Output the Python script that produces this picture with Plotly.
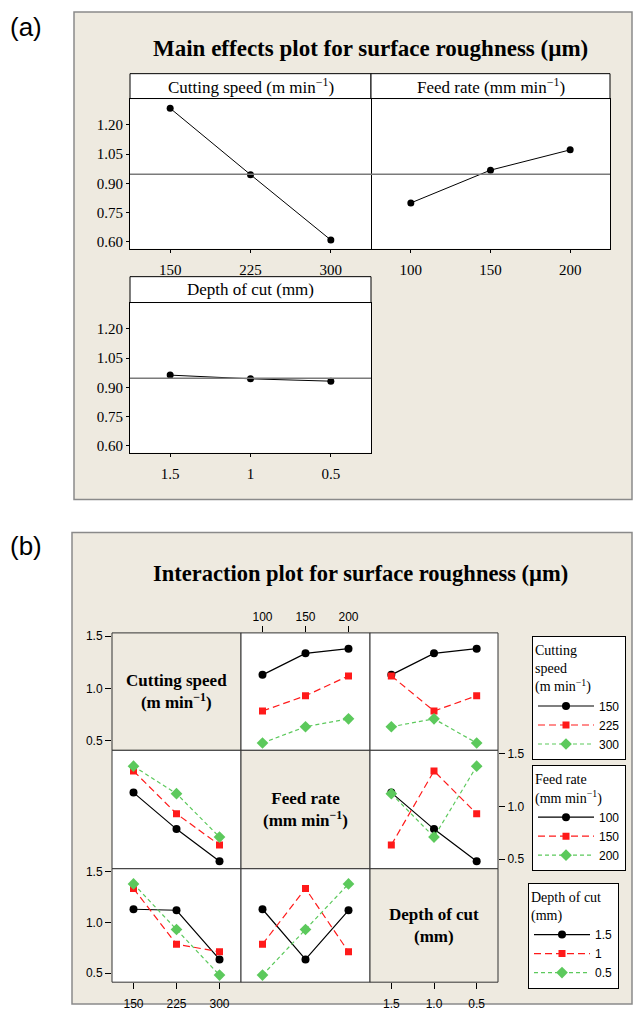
import plotly.graph_objects as go

W, H = 634, 1021

# ---------------- data ----------------
cs_labels = ["150", "225", "300"]
fr_labels = ["100", "150", "200"]
doc_labels = ["1.5", "1", "0.5"]
doc_tick_labels = ["1.5", "1.0", "0.5"]

# main effects (means of surface roughness)
cs_means = [1.285, 0.945, 0.610]
fr_means = [0.800, 0.968, 1.072]
doc_means = [0.963, 0.944, 0.932]
grand_mean = 0.947

main_yticks = [0.60, 0.75, 0.90, 1.05, 1.20]
inter_yticks = [0.5, 1.0, 1.5]
inter_yticklabels = ["0.5", "1.0", "1.5"]

# L9 experimental runs
run_cs = ["150", "150", "150", "225", "225", "225", "300", "300", "300"]
run_fr = ["100", "150", "200", "100", "150", "200", "100", "150", "200"]
run_doc = ["1.5", "1", "0.5", "1", "0.5", "1.5", "0.5", "1.5", "1"]
run_ra = [1.13, 1.335, 1.38, 0.785, 0.93, 1.12, 0.48, 0.635, 0.71]

# ---------------- helpers ----------------
SERIF = "Liberation Serif, Times New Roman, serif"
SANS = "Liberation Sans, Arial, sans-serif"
BEIGE = "#EEEAE0"


def px(x):
    return x / W


def py(y):
    return 1 - y / H


fig = go.Figure()
shapes = []
annotations = []
layout = {}

# ================= Panel (a) =================
shapes.append(dict(type="rect", xref="paper", yref="paper", x0=px(74), x1=px(632),
                   y0=py(498), y1=py(8), fillcolor=BEIGE,
                   line=dict(color="#8a8a8a", width=1.5), layer="below"))
annotations.append(dict(text="(a)", x=px(8), y=py(23), xref="paper", yref="paper",
                        xanchor="left", yanchor="middle", showarrow=False,
                        font=dict(family=SANS, size=26, color="black")))
annotations.append(dict(text="<b>Main effects plot for surface roughness (µm)</b>",
                        x=px(370), y=py(45), xref="paper", yref="paper",
                        xanchor="center", yanchor="middle", showarrow=False,
                        font=dict(family=SERIF, size=23, color="black")))

main_panels = [
    # (axis number, x0, x1, header_top, plot_top, plot_bottom, labels, means, title, show y labels)
    (1, 130, 371, 70, 95, 246, cs_labels, cs_means, "Cutting speed (m min<sup>−1</sup>)", True),
    (2, 371, 610, 70, 95, 246, fr_labels, fr_means, "Feed rate (mm min<sup>−1</sup>)", False),
    (3, 130, 371, 274, 300, 451, doc_labels, doc_means, "Depth of cut (mm)", True),
]

for n, x0, x1, ht, pt, pb, labels, means, title, showy in main_panels:
    xs = "" if n == 1 else str(n)
    # white plot area + header
    shapes.append(dict(type="rect", xref="paper", yref="paper", x0=px(x0), x1=px(x1),
                       y0=py(pb), y1=py(pt), fillcolor="white",
                       line=dict(width=0), layer="below"))
    shapes.append(dict(type="rect", xref="paper", yref="paper", x0=px(x0), x1=px(x1),
                       y0=py(pt), y1=py(ht), fillcolor="white",
                       line=dict(color="black", width=1), layer="below"))
    annotations.append(dict(text=title, x=(px(x0) + px(x1)) / 2, y=(py(ht) + py(pt)) / 2,
                            xref="paper", yref="paper", xanchor="center", yanchor="middle",
                            showarrow=False, font=dict(family=SERIF, size=17, color="black")))
    # reference (grand mean) line
    shapes.append(dict(type="line", xref=f"x{xs} domain", yref=f"y{xs}", x0=0, x1=1,
                       y0=grand_mean, y1=grand_mean, line=dict(color="#7a7a7a", width=1.3)))
    fig.add_trace(go.Scatter(x=labels, y=means, xaxis=f"x{xs}", yaxis=f"y{xs}",
                             mode="lines+markers", showlegend=False,
                             line=dict(color="black", width=1),
                             marker=dict(color="black", size=7, symbol="circle")))
    layout[f"xaxis{xs}"] = dict(domain=[px(x0), px(x1)], anchor=f"y{xs}", type="category",
                                categoryorder="array", categoryarray=labels,
                                range=[-0.5, 2.5], showgrid=False, zeroline=False,
                                showline=True, mirror=True, linecolor="black", linewidth=1,
                                ticks="outside", ticklen=3, tickcolor="black",
                                ticklabelstandoff=4,
                                tickfont=dict(family=SERIF, size=15, color="black"))
    yax = dict(domain=[py(pb), py(pt)], anchor=f"x{xs}",
               range=[0.565, 1.335], showgrid=False, zeroline=False,
               showline=True, mirror=True, linecolor="black", linewidth=1,
               tickmode="array", tickvals=main_yticks,
               ticks="outside" if showy else "", ticklen=3, tickcolor="black",
               showticklabels=showy, tickformat=".2f",
               tickfont=dict(family=SERIF, size=15, color="black"))
    if not showy:
        # left edge is shared with the neighbouring panel; draw only the right edge
        yax.update(side="right", mirror=False)
    layout[f"yaxis{xs}"] = yax

# ================= Panel (b) =================
shapes.append(dict(type="rect", xref="paper", yref="paper", x0=px(72), x1=px(632),
                   y0=py(1005), y1=py(531), fillcolor=BEIGE,
                   line=dict(color="#8a8a8a", width=1.5), layer="below"))
annotations.append(dict(text="(b)", x=px(8), y=py(545), xref="paper", yref="paper",
                        xanchor="left", yanchor="middle", showarrow=False,
                        font=dict(family=SANS, size=26, color="black")))
annotations.append(dict(text="<b>Interaction plot for surface roughness (µm)</b>",
                        x=px(360), y=py(572), xref="paper", yref="paper",
                        xanchor="center", yanchor="middle", showarrow=False,
                        font=dict(family=SERIF, size=22.5, color="black")))

factors = [
    dict(runs=run_cs, levels=cs_labels, ticks=cs_labels,
         diag="<b>Cutting speed<br>(m min<sup>−1</sup>)</b>",
         ltitle="Cutting<br>speed<br>(m min<sup>−1</sup>)"),
    dict(runs=run_fr, levels=fr_labels, ticks=fr_labels,
         diag="<b>Feed rate<br>(mm min<sup>−1</sup>)</b>",
         ltitle="Feed rate<br>(mm min<sup>−1</sup>)"),
    dict(runs=run_doc, levels=doc_labels, ticks=doc_tick_labels,
         diag="<b>Depth of cut<br>(mm)</b>",
         ltitle="Depth of cut<br>(mm)"),
]

styles = [
    dict(color="black", dash="solid", symbol="circle", size=8),
    dict(color="#FF1A1A", dash="7px,4px", symbol="square", size=7),
    dict(color="#5CC95C", dash="4px,3px", symbol="diamond", size=9),
]

col_edges = [112, 241, 370, 498]
row_edges = [632, 750, 869, 983]
legend_ids = ["legend", "legend2", "legend3"]
IR = [0.41, 1.53]

for r in range(3):
    first_col = 1 if r == 0 else 0
    for c in range(3):
        n = 4 + 3 * r + c
        xa, ya = f"x{n}", f"y{n}"
        cx0, cx1 = col_edges[c], col_edges[c + 1]
        cy0, cy1 = row_edges[r], row_edges[r + 1]
        shapes.append(dict(type="rect", xref="paper", yref="paper", x0=px(cx0), x1=px(cx1),
                           y0=py(cy1), y1=py(cy0),
                           fillcolor=BEIGE if r == c else "white",
                           line=dict(color="#333333", width=1), layer="below"))
        colf = factors[c]
        if r == c:
            annotations.append(dict(text=factors[r]["diag"], x=(px(cx0) + px(cx1)) / 2,
                                    y=(py(cy0) + py(cy1)) / 2, xref="paper", yref="paper",
                                    xanchor="center", yanchor="middle", showarrow=False,
                                    font=dict(family=SERIF, size=17, color="black")))
            fig.add_trace(go.Scatter(x=colf["levels"], y=[None] * 3, xaxis=xa, yaxis=ya,
                                     mode="lines", showlegend=False, hoverinfo="skip"))
        else:
            rowf = factors[r]
            for li, lev in enumerate(rowf["levels"]):
                pts = sorted(
                    (colf["levels"].index(xv), xv, yv)
                    for xv, rv, yv in zip(colf["runs"], rowf["runs"], run_ra) if rv == lev
                )
                st = styles[li]
                fig.add_trace(go.Scatter(
                    x=[p[1] for p in pts], y=[p[2] for p in pts], xaxis=xa, yaxis=ya,
                    mode="lines+markers", name=lev, legend=legend_ids[r],
                    showlegend=(c == first_col),
                    line=dict(color=st["color"], width=1.2, dash=st["dash"]),
                    marker=dict(color=st["color"], size=st["size"], symbol=st["symbol"]),
                ))
        xax = dict(domain=[px(cx0), px(cx1)], anchor=ya, type="category",
                   categoryorder="array", categoryarray=colf["levels"],
                   range=[-0.5, 2.5], showgrid=False, zeroline=False, showline=False,
                   tickmode="array", tickvals=colf["levels"], ticktext=colf["ticks"],
                   ticks="", showticklabels=False, ticklen=6, tickcolor="black",
                   tickfont=dict(family=SANS, size=12, color="black"))
        yax = dict(domain=[py(cy1), py(cy0)], anchor=xa, range=IR, showgrid=False,
                   zeroline=False, showline=False, tickmode="array",
                   tickvals=inter_yticks, ticktext=inter_yticklabels,
                   ticks="", showticklabels=False, ticklen=6, tickcolor="black",
                   tickfont=dict(family=SANS, size=12, color="black"))
        if (r, c) in [(0, 0), (2, 0)]:
            yax.update(ticks="outside", showticklabels=True, side="left")
        if (r, c) == (1, 2):
            yax.update(ticks="outside", showticklabels=True, side="right")
        if (r, c) == (0, 1):
            xax.update(ticks="outside", showticklabels=True, side="top")
        if (r, c) in [(2, 0), (2, 2)]:
            xax.update(ticks="outside", showticklabels=True, side="bottom",
                       ticklabelstandoff=4)
        layout[f"xaxis{n}"] = xax
        layout[f"yaxis{n}"] = yax

legend_tops = [(532, 635), (532, 765), (528, 883)]
for r in range(3):
    lx, ly = legend_tops[r]
    layout[legend_ids[r]] = dict(
        x=px(lx), y=py(ly), xanchor="left", yanchor="top",
        bgcolor="white", bordercolor="black", borderwidth=1,
        font=dict(family=SANS, size=12, color="black"),
        title=dict(text=factors[r]["ltitle"], font=dict(family=SERIF, size=14, color="black")),
        itemwidth=56, traceorder="normal",
    )

fig.update_layout(
    width=W, height=H, margin=dict(l=0, r=0, t=0, b=0),
    paper_bgcolor="white", plot_bgcolor="rgba(0,0,0,0)",
    shapes=shapes, annotations=annotations, hovermode=False,
    **layout,
)

fig.write_html("out.html")
